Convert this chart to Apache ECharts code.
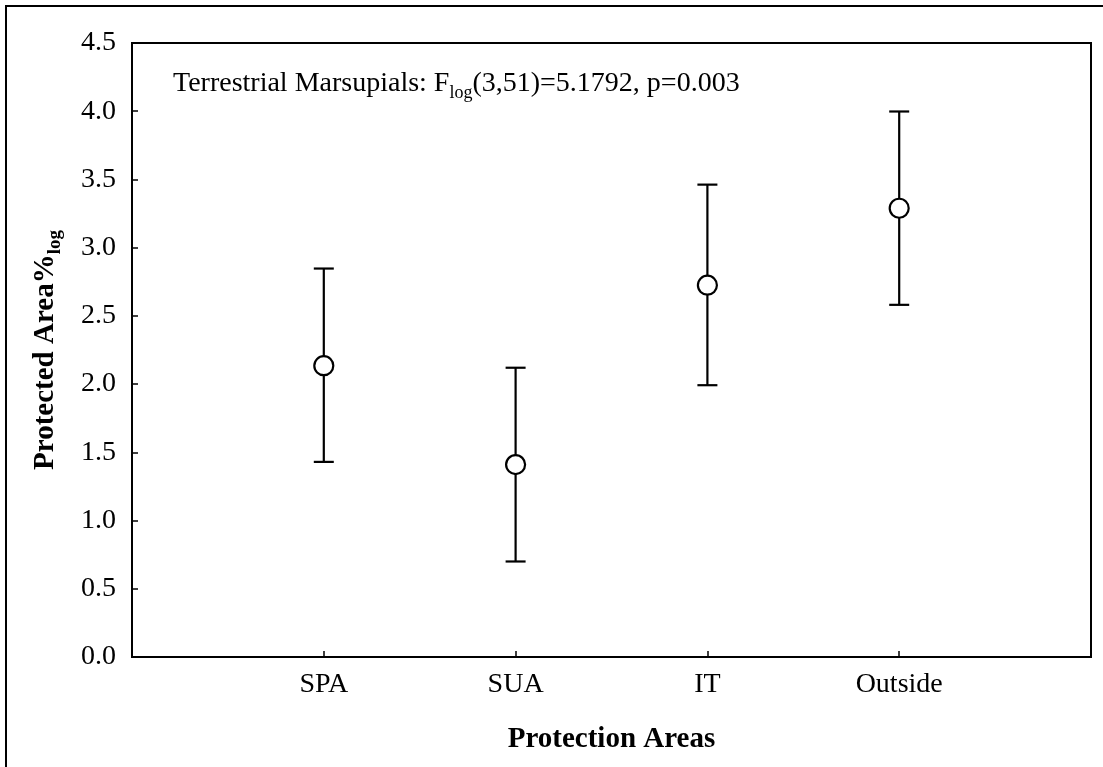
<!DOCTYPE html>
<html lang="en">
<head>
    <meta charset="UTF-8">
    <title>Protected Area by Protection Areas</title>
    <script src="https://cdn.jsdelivr.net/npm/echarts@6/dist/echarts.min.js"></script>
    <style>
        html, body { margin: 0; padding: 0; background: #fff; }
        #chart { width: 1103px; height: 767px; }
    </style>
</head>
<body>
<div id="chart"></div>
<script>
    // values
    const categories = ['SPA', 'SUA', 'IT', 'Outside']
    const means = [2.135, 1.41, 2.725, 3.289]
    const lower = [1.43, 0.70, 1.992, 2.581]
    const upper = [2.847, 2.12, 3.462, 3.998]
    const yTicks = [0, 0.5, 1, 1.5, 2, 2.5, 3, 3.5, 4, 4.5]

    const font = '"Liberation Serif", "Times New Roman", serif'

    let pointData = []
    let barData = []
    for (let i = 0; i < categories.length; i++) {
        pointData.push([i + 1, means[i]])
        barData.push([i + 1, lower[i], upper[i]])
    }

    let myChart = echarts.init(document.getElementById('chart'))
    let option = {
        backgroundColor: '#fff',
        animation: false,
        grid: {
            left: 132, top: 43, right: 12, bottom: 110,
            show: true, borderColor: '#000', borderWidth: 2
        },
        graphic: [
            {
                type: 'rect',
                shape: {x: 6, y: 6, width: 1200, height: 900},
                style: {fill: 'none', stroke: '#000', lineWidth: 2},
                silent: true
            },
            {
                type: 'text',
                x: 173, y: 84,
                style: {
                    text: '{a|Terrestrial Marsupials: F}{s|log}{a|(3,51)=5.1792, p=0.003}',
                    verticalAlign: 'middle',
                    rich: {
                        a: {fontFamily: font, fontSize: 28, color: '#000', lineHeight: 36},
                        s: {fontFamily: font, fontSize: 18, color: '#000', verticalAlign: 'bottom', lineHeight: 22}
                    }
                }
            }
        ],
        xAxis: {
            type: 'value',
            min: 0, max: 5, interval: 1,
            name: 'Protection Areas',
            nameLocation: 'middle',
            nameGap: 68,
            nameTextStyle: {fontFamily: font, fontSize: 29, fontWeight: 'bold', color: '#000'},
            axisLine: {show: true, lineStyle: {color: '#000', width: 2}},
            axisTick: {show: true, inside: true, length: 6, customValues: [1, 2, 3, 4], lineStyle: {color: '#000', width: 1.5}},
            axisLabel: {
                customValues: [1, 2, 3, 4],
                fontFamily: font, fontSize: 28, color: '#000', margin: 14,
                formatter: v => categories[v - 1] || ''
            },
            splitLine: {show: false}
        },
        yAxis: {
            type: 'value',
            min: 0, max: 4.5, interval: 0.5,
            name: '{a|Protected Area%}{s|log}',
            nameLocation: 'middle',
            nameRotate: 90,
            nameGap: 67,
            nameTextStyle: {
                rich: {
                    a: {fontFamily: font, fontSize: 29, fontWeight: 'bold', color: '#000', lineHeight: 38},
                    s: {fontFamily: font, fontSize: 19, fontWeight: 'bold', color: '#000', verticalAlign: 'bottom', lineHeight: 23}
                }
            },
            axisLine: {show: true, lineStyle: {color: '#000', width: 2}},
            axisTick: {show: true, inside: true, length: 6, customValues: yTicks, lineStyle: {color: '#000', width: 1.5}},
            axisLabel: {
                customValues: yTicks,
                fontFamily: font, fontSize: 28, color: '#000', margin: 16,
                formatter: v => v.toFixed(1)
            },
            splitLine: {show: false}
        },
        series: [
            {
                type: 'custom',
                data: barData,
                z: 2,
                renderItem: function (params, api) {
                    let lo = api.coord([api.value(0), api.value(1)])
                    let hi = api.coord([api.value(0), api.value(2)])
                    let w = 10
                    let st = {stroke: '#000', lineWidth: 2.2}
                    return {
                        type: 'group',
                        children: [
                            {type: 'line', shape: {x1: hi[0], y1: hi[1], x2: lo[0], y2: lo[1]}, style: st},
                            {type: 'line', shape: {x1: hi[0] - w, y1: hi[1], x2: hi[0] + w, y2: hi[1]}, style: st},
                            {type: 'line', shape: {x1: lo[0] - w, y1: lo[1], x2: lo[0] + w, y2: lo[1]}, style: st}
                        ]
                    }
                }
            },
            {
                type: 'scatter',
                data: pointData,
                z: 3,
                symbol: 'circle',
                symbolSize: 19,
                itemStyle: {color: '#fff', borderColor: '#000', borderWidth: 2.2, opacity: 1}
            }
        ]
    }
    myChart.setOption(option)
</script>
</body>
</html>
